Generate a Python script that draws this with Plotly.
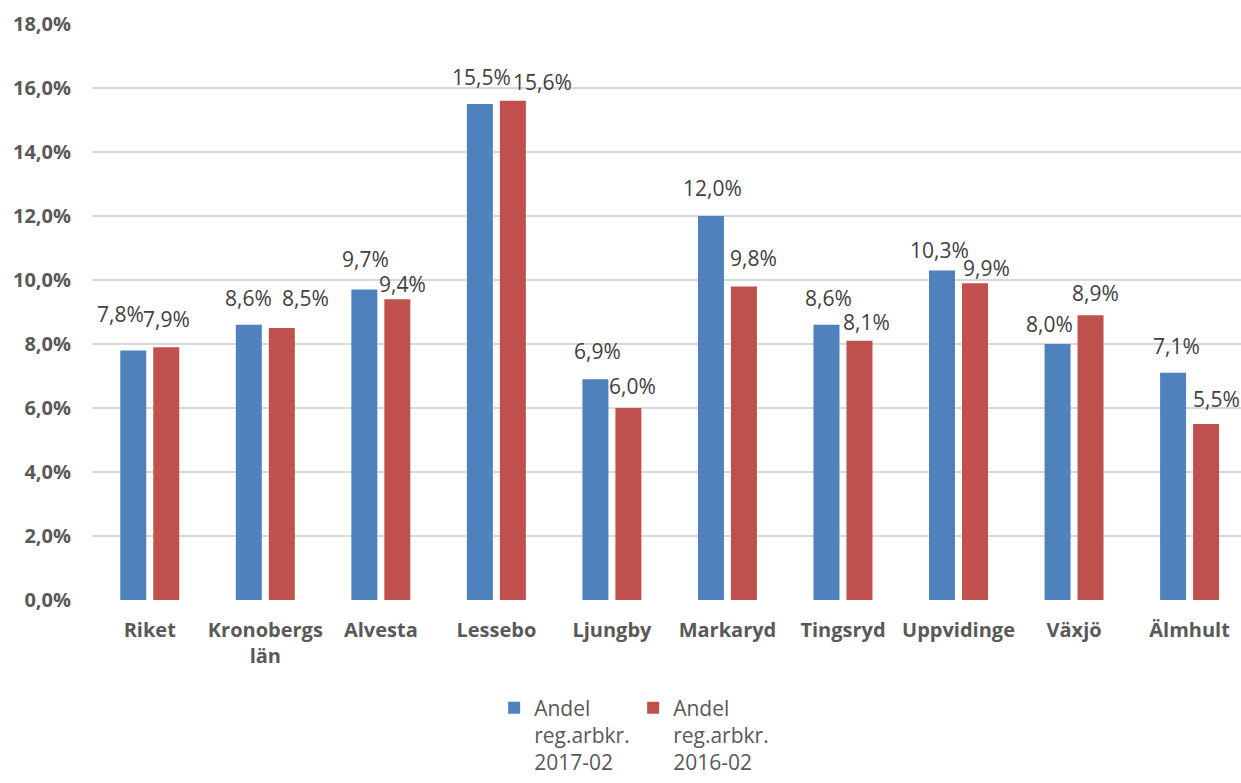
import plotly.graph_objects as go

categories = ["Riket", "Kronobergs<br>län", "Alvesta", "Lessebo", "Ljungby",
              "Markaryd", "Tingsryd", "Uppvidinge", "Växjö", "Älmhult"]
andel_2017 = [7.8, 8.6, 9.7, 15.5, 6.9, 12.0, 8.6, 10.3, 8.0, 7.1]
andel_2016 = [7.9, 8.5, 9.4, 15.6, 6.0, 9.8, 8.1, 9.9, 8.9, 5.5]
series_names = ["Andel<br>reg.arbkr.<br>2017-02", "Andel<br>reg.arbkr.<br>2016-02"]
y_ticks = [0, 2, 4, 6, 8, 10, 12, 14, 16, 18]

# Data-label nudges (px): horizontal offset from the bar centre and the
# distance from the bar top up to the text baseline, so neighbouring labels
# sit side by side instead of on top of each other.
label_dx_2017 = [-13, 0, 1, 2, 2, 2, 2, -3, -8, 3]
label_gap_2017 = [27, 18, 22, 18, 19, 19, 18, 11, 11, 18]
label_dx_2016 = [0, 24, 5, 30, 4, 10, 7, 11, 5, 10]
label_gap_2016 = [19, 21, 6, 10, 13, 19, 10, 6, 13, 16]

FONT = "Open Sans"
GRAY = "#595959"
LABEL = "#404040"
BLUE = "#4F81BD"
RED = "#C0504D"
BAR_OFFSET = 16.5  # px from category centre to each bar centre
DESCENT = 7        # px from the annotation's bottom edge to its baseline


def fmt(v):
    return f"{v:.1f}".replace(".", ",") + "%"


xs = list(range(len(categories)))
fig = go.Figure()
for vals, name, color in [(andel_2017, series_names[0], BLUE),
                          (andel_2016, series_names[1], RED)]:
    fig.add_trace(go.Bar(
        x=xs, y=vals, name=name,
        marker=dict(color=color, line=dict(width=0)),
        hoverinfo="x+y",
    ))

annotations = []
for vals, dxs, gaps, side in [(andel_2017, label_dx_2017, label_gap_2017, -1),
                              (andel_2016, label_dx_2016, label_gap_2016, 1)]:
    for x, v, dx, gap in zip(xs, vals, dxs, gaps):
        annotations.append(dict(
            x=x, y=v, xref="x", yref="y", text=fmt(v), showarrow=False,
            xanchor="center", yanchor="bottom",
            xshift=side * BAR_OFFSET + dx, yshift=gap - DESCENT,
            font=dict(family=FONT, size=21, color=LABEL),
        ))

fig.update_layout(
    width=1241, height=783,
    margin=dict(l=92, r=0, t=24, b=183),
    paper_bgcolor="white", plot_bgcolor="white",
    barmode="group", bargap=0.429, bargroupgap=0.212,
    font=dict(family=FONT, color=GRAY),
    annotations=annotations,
    showlegend=True,
    legend=dict(orientation="h", x=0.350, xanchor="left", y=-0.152, yanchor="top",
                font=dict(family=FONT, size=21, color=GRAY),
                valign="top", entrywidth=94, traceorder="normal"),
    xaxis=dict(tickmode="array", tickvals=xs,
               ticktext=[f"<b>{c}</b>" for c in categories],
               range=[-0.5, 9.445], showgrid=False, zeroline=False, showline=False,
               ticks="", ticklabelstandoff=16,
               tickfont=dict(family=FONT, size=20, color=GRAY)),
    yaxis=dict(range=[0, 18], tickvals=y_ticks,
               ticktext=[f"<b>{fmt(v)}</b>" for v in y_ticks],
               showgrid=True, gridcolor="#D9D9D9", gridwidth=2,
               zeroline=False, showline=False, ticks="", ticklabelstandoff=20,
               tickfont=dict(family=FONT, size=20, color=GRAY)),
)

fig.write_html("out.html")
